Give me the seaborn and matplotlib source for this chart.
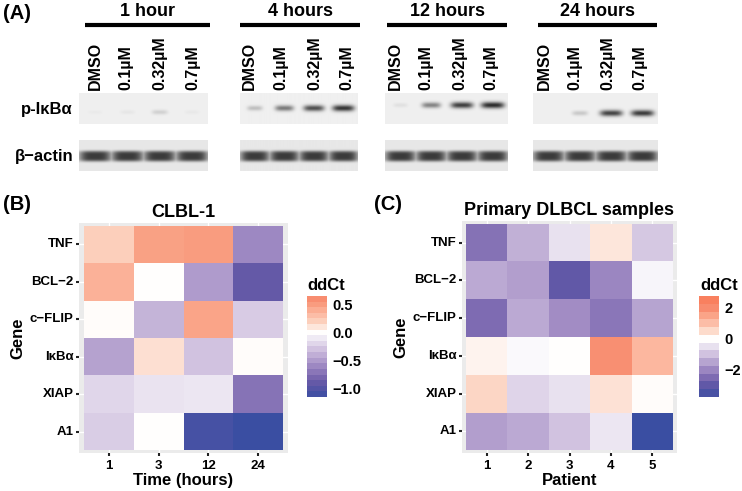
import numpy as np
import pandas as pd
import matplotlib
matplotlib.use("Agg")
import matplotlib.pyplot as plt
from matplotlib.colors import LinearSegmentedColormap, Normalize
import seaborn as sns

W, H = 742, 491

# Panel A - band strength per lane (0-1), read by eye
doses = ["DMSO", "0.1µM", "0.32µM", "0.7µM"]
time_labels = ["1 hour", "4 hours", "12 hours", "24 hours"]
p_ikba = [
    [0.03, 0.05, 0.16, 0.04],
    [0.25, 0.60, 0.82, 0.95],
    [0.08, 0.55, 0.90, 1.00],
    [0.00, 0.20, 0.88, 0.92],
]
actin = [
    [0.92, 0.92, 0.92, 0.92],
    [0.92, 0.92, 0.92, 0.92],
    [0.92, 0.92, 0.92, 0.92],
    [0.92, 0.92, 0.92, 0.92],
]

# Panel B / C - ddCt
genes = ["TNF", "BCL−2", "c−FLIP", "IκBα", "XIAP", "A1"]
hours = ["1", "3", "12", "24"]
clbl = [
    [0.20, 0.48, 0.50, -0.60],
    [0.38, 0.00, -0.50, -0.90],
    [0.01, -0.38, 0.46, -0.26],
    [-0.47, 0.13, -0.30, 0.01],
    [-0.20, -0.14, -0.12, -0.72],
    [-0.25, 0.00, -1.08, -1.16],
]
patients = ["1", "2", "3", "4", "5"]
primary = [
    [-2.4, -1.3, -0.5, 0.35, -0.9],
    [-1.4, -1.6, -3.0, -2.0, -0.15],
    [-2.5, -1.4, -1.9, -2.3, -1.5],
    [0.15, -0.1, 0.0, 1.9, 1.1],
    [0.55, -0.7, -0.5, 0.4, 0.03],
    [-1.6, -1.4, -1.0, -0.4, -3.8],
]

sns.set_theme(style="white")
plt.rcParams["font.family"] = ["Liberation Sans", "DejaVu Sans"]
plt.rcParams["font.weight"] = "bold"
plt.rcParams["axes.labelweight"] = "bold"
for key in ["text.color", "axes.labelcolor", "xtick.color", "ytick.color"]:
    plt.rcParams[key] = "black"

cmap = LinearSegmentedColormap.from_list("ddct", [
    (0.0, "#3a4ea2"), (0.125, "#6a5aa8"), (0.25, "#a28cc4"), (0.375, "#d3c5e1"),
    (0.5, "#ffffff"), (0.58, "#fcd2bf"), (0.65, "#fcb69e"), (0.71, "#f99f82"),
    (0.75, "#f88f72"), (0.855, "#f97b5a"), (1.0, "#f04a28"),
])

fig = plt.figure(figsize=(W / 100, H / 100), dpi=100)


def px_axes(x0, y0, x1, y1):
    return fig.add_axes([x0 / W, 1 - y1 / H, (x1 - x0) / W, (y1 - y0) / H])


# overlay in pixel coords for labels and bars
page = px_axes(0, 0, W, H)
page.set_xlim(0, W)
page.set_ylim(H, 0)
page.axis("off")

page.text(3, 13, "(A)", fontsize=14.5, va="center")
page.text(3, 205, "(B)", fontsize=14.5, va="center")
page.text(374, 204, "(C)", fontsize=14.5, va="center")


def blot(x0, y0, x1, y1, values, band_y, half_h, bg, dark):
    h, w = y1 - y0, x1 - x0
    yy, xx = np.mgrid[0:h * 3, 0:w * 3] / 3.0
    img = np.zeros_like(xx)
    lane = w / 4
    thick = half_h > 3.5
    for i, v in enumerate(values):
        hw = lane * (0.5 if thick else 0.22 + 0.16 * v)
        hh = half_h * (0.55 + 0.45 * v ** 0.5)
        d = np.exp(-((xx - lane * (i + 0.5)) / hw) ** 4 - np.abs((yy - band_y) / hh) ** (4 if thick else 2))
        img = np.maximum(img, v * d)
    img = bg - (bg - dark) * np.clip(img, 0, 1)
    ax = px_axes(x0, y0, x1, y1)
    ax.imshow(img, cmap="gray", vmin=0, vmax=1, aspect="auto", interpolation="bilinear")
    ax.axis("off")


blot_x = [(79, 208), (240, 357), (385, 508), (533, 658)]
bar_x = [(85, 210), (240, 360), (387, 507), (538, 657)]
lane_x = [(95, 126, 160, 193), (249, 281, 315, 347), (395, 426, 460, 491), (544, 575, 608, 640)]
p_band_y = [19, 15, 12, 20]

for t, label in enumerate(time_labels):
    blot(blot_x[t][0], 93, blot_x[t][1], 124, p_ikba[t], p_band_y[t], 3.2, 0.94, 0.17)
    blot(blot_x[t][0], 140, blot_x[t][1], 171, actin[t], 16, 5.4, 0.91, 0.17)
    page.plot(bar_x[t], [25, 25], color="black", lw=3, solid_capstyle="butt")
    page.text(sum(bar_x[t]) / 2, 11, label, fontsize=13, ha="center", va="center")
    for x, dose in zip(lane_x[t], doses):
        page.text(x, 90, dose, fontsize=11.5, rotation=90, ha="center", va="bottom")

page.text(73, 109, "p-IκBα", fontsize=12, ha="right", va="center")
page.text(73, 156, "β−actin", fontsize=12, ha="right", va="center")


def heat(values, cols, xlabel, title, box, cbox, bins, ticks, ticklabels, legend_x, title_size):
    df = pd.DataFrame(values, index=genes, columns=cols)
    ax = px_axes(*box)
    m = np.abs(df.values).max()
    sns.heatmap(df, ax=ax, cmap=cmap, norm=Normalize(-m, m), cbar=False)
    ax.set_facecolor("#ebebeb")
    ax.set_axisbelow(True)
    ax.grid(True, color="white", lw=1)
    ax.set_xlim(-0.1, len(cols) + 0.1)
    ax.set_ylim(len(genes) + 0.07, -0.07)
    ax.tick_params(left=True, bottom=True, length=2, width=1.5, color="#222222", pad=2,
                   labelsize=9.5)
    ax.tick_params(axis="y", labelrotation=0)
    ax.tick_params(axis="x", labelrotation=0, pad=3)
    ax.set_xlabel(xlabel, fontsize=12, labelpad=1)
    ax.set_ylabel("Gene", fontsize=12, labelpad=3)
    ax.set_title(title, fontsize=title_size, fontweight="bold", pad=4)
    for s in ax.spines.values():
        s.set_visible(False)

    cax = px_axes(*cbox)
    mids = (bins[:-1] + bins[1:]) / 2
    cb = fig.colorbar(ax.collections[0], cax=cax, boundaries=bins, values=mids,
                      spacing="proportional", drawedges=False)
    cb.set_ticks(ticks)
    cb.set_ticklabels(ticklabels)
    cb.outline.set_visible(False)
    cax.tick_params(axis="y", direction="in", color="white", length=3, width=0.6,
                    labelsize=10.5, pad=4, right=True)
    page.text(legend_x, cbox[1] - 11, "ddCt", fontsize=12, va="center")


heat(clbl, hours, "Time (hours)", "CLBL-1", (79, 223, 288, 453), (307, 296, 327, 397),
     np.linspace(-1.15, 0.65, 19), [-1.0, -0.5, 0.0, 0.5], ["−1.0", "−0.5", "0.0", "0.5"], 307, 13)
heat(primary, patients, "Patient", "Primary DLBCL samples", (462, 221, 677, 453), (699, 296, 719, 397),
     np.linspace(-3.75, 2.75, 14), [-2, 0, 2], ["−2", "0", "2"], 700, 13)

fig.savefig("out.png", dpi=100)
